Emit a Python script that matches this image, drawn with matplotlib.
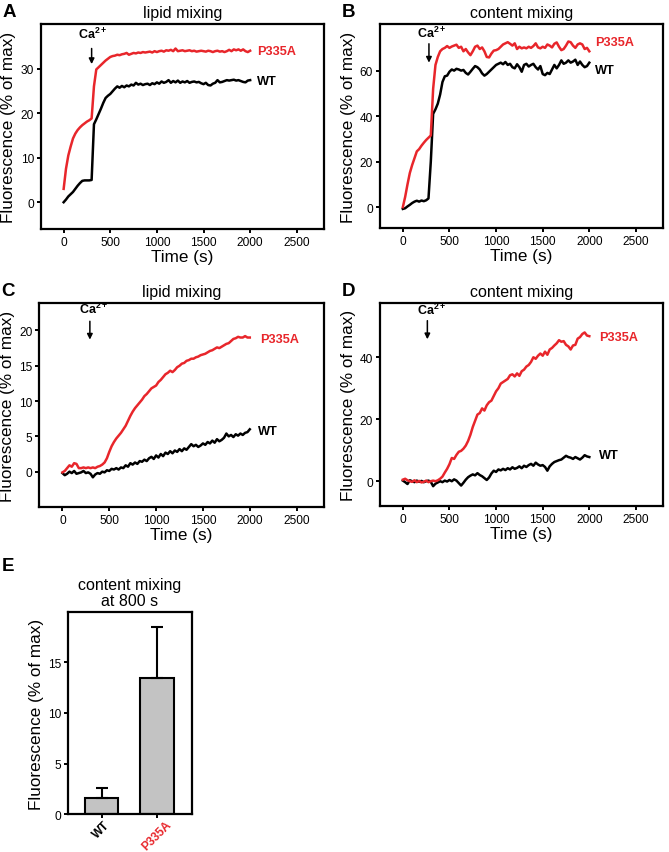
import numpy as np
import matplotlib
matplotlib.use("Agg")
import matplotlib.pyplot as plt

plt.rcParams['font.family'] = ['Liberation Sans', 'DejaVu Sans']
plt.rcParams['mathtext.fontset'] = 'custom'
plt.rcParams['mathtext.rm'] = 'Liberation Sans'
plt.rcParams['mathtext.bf'] = 'Liberation Sans:bold'

RED = '#e8262b'

# time grid (s), sampled every 25 s
time = np.arange(0, 2001, 25)

# panel A - lipid mixing
a_p335a = [3.0, 7.5, 10.5, 12.5, 14.3, 15.4, 16.2, 16.8, 17.3, 17.7, 18.1, 18.4, 18.8,
           26.0, 29.8, 30.3, 30.8, 31.3, 31.8, 32.2, 32.6, 32.8, 32.9, 33.1, 33.0, 33.2,
           33.3, 33.5, 33.1, 33.3, 33.5, 33.4, 33.6, 33.5, 33.7, 33.6, 33.7, 33.8, 33.6,
           33.9, 33.7, 33.9, 34.0, 33.8, 34.1, 34.0, 34.2, 33.9, 34.5, 33.9, 34.0, 34.1,
           33.9, 34.0, 34.1, 33.9, 34.0, 33.8, 33.9, 34.0, 33.9, 33.8, 34.0, 33.9, 33.7,
           33.9, 34.0, 33.8, 33.9, 33.7, 33.9, 34.2, 33.9, 34.3, 34.1, 34.3, 34.0, 34.3,
           33.9, 33.7, 34.0]
a_wt = [0.0, 0.6, 1.3, 1.8, 2.3, 3.0, 3.7, 4.3, 4.8, 4.9, 4.9, 4.9, 5.0,
        17.5, 18.6, 19.8, 21.0, 22.3, 23.4, 23.9, 24.3, 24.9, 25.5, 26.0, 25.7, 26.1,
        25.8, 26.2, 26.0, 26.4, 26.2, 26.8, 26.4, 26.6, 26.3, 26.5, 26.6, 26.3, 26.7,
        26.5, 26.9, 26.6, 27.1, 26.8, 27.0, 27.4, 26.8, 27.2, 26.9, 27.3, 26.8, 27.1,
        26.9, 27.2, 26.8, 27.0, 27.1, 26.9, 27.0, 26.7, 26.5, 26.8, 26.3, 26.2, 26.6,
        26.8, 27.4, 26.9, 27.0, 27.2, 27.4, 27.3, 27.4, 27.5, 27.3, 27.4, 27.2, 27.0,
        26.9, 27.3, 27.4]

# panel B - content mixing
b_p335a = [0.0, 4.5, 10.0, 15.0, 18.5, 21.5, 24.5, 25.5, 27.0, 28.3, 29.5, 30.5, 31.5,
           52.0, 62.5, 66.0, 68.5, 69.5, 70.0, 70.8, 70.0, 70.6, 71.0, 71.4, 70.0, 70.5,
           68.5, 69.5, 68.0, 66.8, 68.5, 70.5, 71.0, 69.5, 70.2, 68.5, 66.0, 65.8, 67.5,
           68.8, 69.0, 69.5, 70.5, 71.5, 72.0, 72.5, 71.8, 71.0, 72.0, 69.5, 70.5, 69.8,
           70.2, 69.8, 70.5, 70.0, 70.8, 72.0, 70.2, 69.8, 70.5, 70.0, 71.5, 71.0, 70.2,
           71.8, 72.4, 70.5, 69.0, 69.5, 71.0, 72.8, 72.5, 71.0, 70.0, 71.5, 72.0, 71.5,
           69.5, 70.0, 68.5]
b_wt = [-0.8, -0.5, 0.3, 1.0, 1.8, 2.4, 2.8, 2.4, 2.9, 2.6, 3.0, 3.8, 20.0,
        41.0, 43.0, 45.5, 49.5, 55.0, 57.5, 57.8, 59.5, 60.5, 60.0, 60.8, 60.5, 60.0,
        60.3, 59.0, 58.3, 59.5, 60.8, 62.0, 61.5, 60.5, 58.8, 57.8, 58.5, 59.5, 60.5,
        61.5, 62.5, 63.0, 63.5, 62.8, 63.8, 62.5, 63.0, 61.5, 61.0, 62.8, 61.5, 59.5,
        62.5, 63.0, 61.8, 62.5, 63.0, 61.5, 60.5, 62.0, 58.5, 58.0, 59.0, 58.5, 60.5,
        62.5, 61.0, 62.5, 64.5, 63.0, 63.5, 64.5, 63.5, 64.0, 64.8, 62.5, 64.0, 62.5,
        61.5, 62.0, 63.5]

# panel C - lipid mixing
c_p335a = [-0.1, 0.1, 0.5, 0.9, 0.7, 1.2, 1.1, 0.5, 0.5, 0.6, 0.5, 0.6, 0.5,
           0.6, 0.5, 0.7, 0.8, 1.0, 1.3, 1.9, 2.8, 3.6, 4.2, 4.7, 5.1, 5.5,
           6.0, 6.5, 7.2, 7.9, 8.5, 9.0, 9.4, 9.8, 10.2, 10.7, 11.0, 11.4, 11.8,
           12.0, 12.2, 12.7, 13.0, 13.4, 13.8, 14.0, 14.3, 14.1, 14.4, 14.8, 15.0, 15.3,
           15.4, 15.7, 15.8, 16.0, 16.0, 16.2, 16.3, 16.5, 16.6, 16.7, 16.9, 17.1, 17.2,
           17.4, 17.6, 17.5, 17.7, 17.9, 18.1, 18.2, 18.5, 18.8, 18.9, 19.1, 19.0, 19.0,
           19.2, 19.0, 19.0]
c_wt = [-0.2, -0.5, -0.3, 0.0, -0.2, 0.1, -0.3, -0.2, -0.1, 0.1, -0.2, -0.1, -0.3,
        -0.8, -0.4, -0.2, -0.3, 0.0, -0.1, 0.2, 0.1, 0.4, 0.3, 0.5, 0.3, 0.6,
        0.5, 0.9, 0.7, 1.2, 1.0, 1.3, 1.1, 1.5, 1.4, 1.7, 1.5, 1.9, 2.1,
        1.8, 2.3, 2.0, 2.5, 2.2, 2.7, 2.5, 2.9, 2.6, 3.0, 2.8, 3.2, 2.9,
        3.3, 3.1, 3.5, 3.9, 3.6, 3.8, 3.5, 3.7, 4.0, 3.8, 4.2, 4.0, 4.4,
        4.1, 4.6, 4.3, 4.5, 4.8, 5.4, 5.0, 5.2, 4.9, 5.3, 5.1, 5.4, 5.2,
        5.5, 5.6, 6.0]

# panel D - content mixing
d_p335a = [0.5, 0.8, 0.3, 0.0, -0.2, 0.3, -0.3, 0.1, -0.4, -0.2, 0.2, -0.3, 0.0,
           0.2, 0.0, 0.3, 0.8, 1.5, 2.8, 4.0, 5.5, 7.5, 7.2, 8.5, 9.5, 9.8,
           10.5, 11.5, 13.0, 15.0, 17.5, 19.5, 21.5, 22.0, 23.5, 22.8, 24.5, 25.5, 26.0,
           27.5, 29.0, 30.0, 31.5, 32.0, 32.5, 33.0, 34.2, 34.5, 33.8, 34.8, 34.0, 35.5,
           36.0, 37.0, 37.5, 38.5, 40.0, 39.5, 40.5, 41.2, 40.5, 41.8, 40.8, 42.5, 43.0,
           43.8, 44.5, 45.5, 45.0, 45.2, 44.0, 43.5, 42.5, 43.8, 44.0, 46.0, 46.5, 47.5,
           48.0, 47.0, 46.8]
d_wt = [0.2, -0.3, -0.9, 0.3, 0.0, -0.3, 0.2, -0.2, 0.1, -0.3, 0.0, 0.2, -0.2,
        -1.6, -0.8, -0.4, 0.0, -0.3, 0.2, -0.1, 0.4, 0.0, 0.6, 0.2, -0.6, -1.4,
        -0.5, 0.5, 1.3, 1.8, 2.2, 1.9, 2.6, 2.0, 1.6, 1.0, 0.4, 1.2, 2.5,
        3.4, 3.0, 3.8, 3.5, 4.0, 3.6, 4.2, 3.8, 4.5, 4.0, 4.3, 4.8, 4.2,
        5.0, 4.6, 5.2, 5.6, 5.0, 6.0, 5.4, 5.0, 5.2, 4.6, 3.4, 4.8, 5.6,
        6.2, 6.5, 6.8, 7.0, 7.6, 8.2, 7.8, 7.6, 7.2, 7.8, 7.4, 7.0, 7.6,
        8.4, 8.0, 7.8]

# panel E - content mixing at 800 s
e_labels = ['WT', 'P335A']
e_means = [1.6, 13.5]
e_err = [1.0, 5.0]

fig = plt.figure(figsize=(6.69, 8.53), dpi=100)


def style_axes(ax):
    for sp in ax.spines.values():
        sp.set_linewidth(1.6)
    ax.tick_params(direction='out', length=3, width=1.4, labelsize=8.6, pad=2)


panels = [
    ('A', 'lipid mixing', [0.061, 0.7304, 0.4230, 0.2403], a_p335a, a_wt,
     (-6, 40), [0, 10, 20, 30], (310, 36.2), (300, 34.5, 31.0),
     (2070, 33.9), (2070, 27.3)),
    ('B', 'content mixing', [0.568, 0.7315, 0.4230, 0.2392], b_p335a, b_wt,
     (-9.2, 80.5), [0, 20, 40, 60], (310, 73.5), (280, 71.8, 63.5),
     (2060, 72.5), (2060, 60.3)),
    ('C', 'lipid mixing', [0.059, 0.4045, 0.4250, 0.2392], c_p335a, c_wt,
     (-5, 23.9), [0, 5, 10, 15, 20], (330, 22.0), (293, 21.3, 18.7),
     (2110, 18.8), (2090, 5.7)),
    ('D', 'content mixing', [0.568, 0.4056, 0.4230, 0.2380], d_p335a, d_wt,
     (-8, 57.5), [0, 20, 40], (305, 53.0), (263, 51.8, 45.8),
     (2100, 46.5), (2100, 8.4)),
]

for letter, title, rect, red, black, ylim, yticks, ca_txt, ca_arr, lab_r, lab_k in panels:
    ax = fig.add_axes(rect)
    ax.plot(time, black, color='black', lw=1.8)
    ax.plot(time, red, color=RED, lw=1.8)
    ax.set_xlim(-245, 2790)
    ax.set_ylim(*ylim)
    ax.set_xticks([0, 500, 1000, 1500, 2000, 2500])
    ax.set_yticks(yticks)
    ax.set_xlabel('Time (s)', fontsize=12.3, labelpad=1)
    ax.set_ylabel('Fluorescence (% of max)', fontsize=12.3, labelpad=3)
    ax.set_title(title, fontsize=11.5, pad=5)
    style_axes(ax)
    ax.text(ca_txt[0], ca_txt[1], r'Ca$^{\mathbf{2+}}$', fontsize=9, fontweight='bold',
            ha='center', va='bottom')
    ax.annotate('', xy=(ca_arr[0], ca_arr[2]), xytext=(ca_arr[0], ca_arr[1]),
                arrowprops=dict(arrowstyle='-|>', color='black', lw=1.1,
                                mutation_scale=8, shrinkA=0, shrinkB=0))
    ax.text(lab_r[0], lab_r[1], 'P335A', color=RED, fontsize=9.2, fontweight='bold',
            ha='left', va='center')
    ax.text(lab_k[0], lab_k[1], 'WT', color='black', fontsize=9.2, fontweight='bold',
            ha='left', va='center')
    fig.text(rect[0] - 0.057, rect[1] + rect[3] + 0.0245, letter, fontsize=13.5,
             fontweight='bold', ha='left', va='top')

# panel E
axe = fig.add_axes([0.1016, 0.0445, 0.1853, 0.2370])
x = np.arange(len(e_labels))
axe.bar(x, e_means, width=0.6, color='#c3c3c3', edgecolor='black', linewidth=1.5,
        yerr=[[0, 0], e_err], capsize=4,
        error_kw=dict(elinewidth=1.5, capthick=1.5, ecolor='black'), zorder=2)
axe.set_xlim(-0.61, 1.63)
axe.set_ylim(0, 20)
axe.set_yticks([0, 5, 10, 15])
axe.set_xticks(x)
axe.set_xticklabels(e_labels, rotation=45, ha='center', fontweight='bold', fontsize=8.5)
axe.get_xticklabels()[1].set_color(RED)
axe.set_ylabel('Fluorescence (% of max)', fontsize=12.3, labelpad=3)
axe.set_title('content mixing\nat 800 s', fontsize=11.5, pad=5, linespacing=1.05)
style_axes(axe)
axe.tick_params(axis='x', pad=0)
fig.text(0.003, 0.346, 'E', fontsize=13.5, fontweight='bold', ha='left', va='top')

fig.savefig('out.png', dpi=100)
